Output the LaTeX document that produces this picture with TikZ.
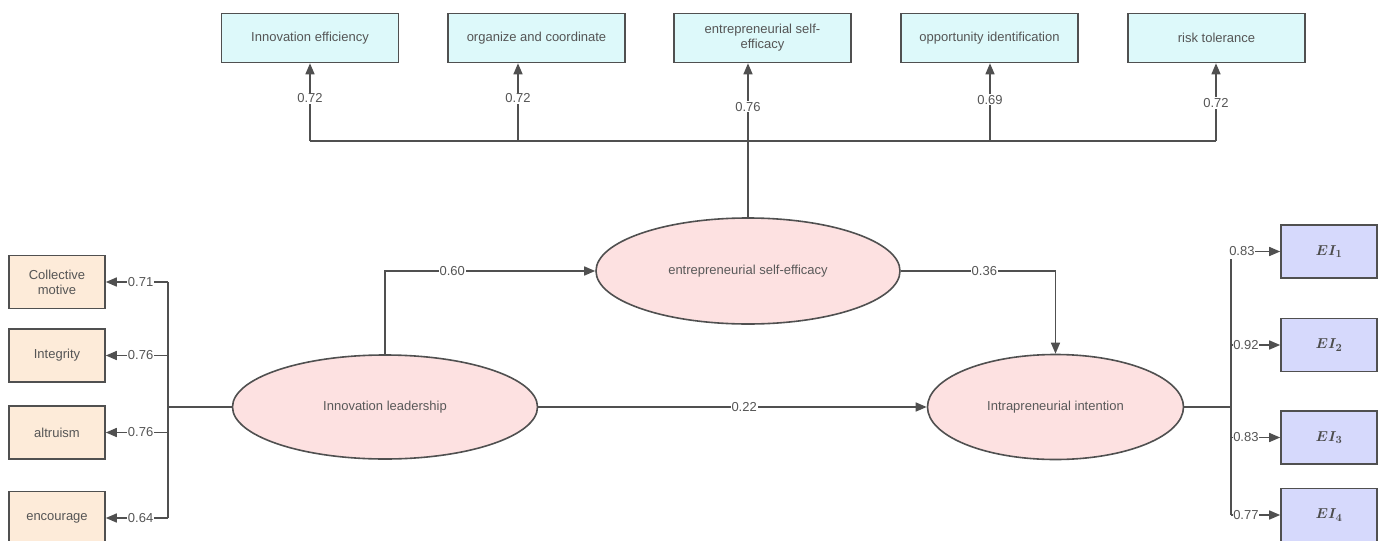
\documentclass[tikz,border=0pt]{standalone}
\usepackage{fontspec}
\setmainfont{Liberation Sans}
\usetikzlibrary{arrows.meta,shapes.geometric,calc}
\definecolor{lc}{HTML}{505050}
\definecolor{tc}{HTML}{555555}
\definecolor{cyanf}{HTML}{DDF9FA}
\definecolor{orf}{HTML}{FDEBD9}
\definecolor{pkf}{HTML}{FDE1E1}
\definecolor{blf}{HTML}{D6D9FC}
\begin{document}
\begin{tikzpicture}[x=1pt,y=-1pt,
  every node/.style={font=\fontsize{13}{15}\selectfont, text=tc},
  topbox/.style={draw=lc, line width=1.6pt, fill=cyanf, minimum width=177pt, minimum height=49pt, inner sep=2pt, align=center},
  leftbox/.style={draw=lc, line width=1.6pt, fill=orf, minimum width=96pt, minimum height=53pt, inner sep=2pt, align=center},
  eibox/.style={draw=lc, line width=1.6pt, fill=blf, minimum width=96pt, minimum height=53pt, inner sep=2pt, font=\fontsize{15}{17}\selectfont\boldmath, text=black!70},
  latent/.style={ellipse, draw=lc, line width=1.6pt, fill=pkf, inner sep=0pt, text=black!65},
  conn/.style={draw=lc, line width=1.5pt},
  arr/.style={conn, -{Triangle[length=11pt,width=9pt]}},
  lbl/.style={fill=white, inner sep=1pt, text=tc},
  rlbl/.style={fill=white, inner xsep=0.5pt, inner ysep=1pt, text=tc, anchor=west}
]
\useasboundingbox (0,0) rectangle (1385,541);
\begin{scope}
\clip (0,0) rectangle (1385,541);
% top indicator boxes
\node[topbox] (b1) at (310,38) {Innovation efficiency};
\node[topbox] (b2) at (536.5,38) {organize and coordinate};
\node[topbox] (b3) at (762.5,38) {entrepreneurial self-\\efficacy};
\node[topbox] (b4) at (989.5,38) {opportunity identification};
\node[topbox] (b5) at (1216.5,38) {risk tolerance};

% latent variables
\node[latent, minimum width=304pt, minimum height=106pt] (ese) at (748,271) {entrepreneurial self-efficacy};
\node[latent, minimum width=305pt, minimum height=104pt] (il) at (385,407) {Innovation leadership};
\node[latent, minimum width=256pt, minimum height=105pt] (ii) at (1055.5,407) {Intrapreneurial intention};

% left boxes
\node[leftbox] (c1) at (57,282) {Collective\\motive};
\node[leftbox] (c2) at (57,355.5) {Integrity};
\node[leftbox] (c3) at (57,432.5) {altruism};
\node[leftbox] (c4) at (57,518) {encourage};

% right boxes
\node[eibox] (e1) at (1329,251.5) {$EI_1$};
\node[eibox] (e2) at (1329,345) {$EI_2$};
\node[eibox] (e3) at (1329,437.5) {$EI_3$};
\node[eibox] (e4) at (1329,515) {$EI_4$};

% top junctions
\coordinate (j1) at (310,141);
\coordinate (j2) at (518,141);
\coordinate (j3) at (748,141);
\coordinate (j4) at (990,141);
\coordinate (j5) at (1216,141);
\draw[conn] (j1) -- (j5);
\draw[conn] (ese.north) -- (j3);
\draw[arr] (j1) -- (j1 |- b1.south) node[lbl, pos=0.55] {0.72};
\draw[arr] (j2) -- (j2 |- b2.south) node[lbl, pos=0.55] {0.72};
\draw[arr] (j3) -- (j3 |- b3.south) node[lbl, pos=0.44] {0.76};
\draw[arr] (j4) -- (j4 |- b4.south) node[lbl, pos=0.53] {0.69};
\draw[arr] (j5) -- (j5 |- b5.south) node[lbl, pos=0.49] {0.72};

% structural paths
\draw[arr] (il.north) |- (ese.west) node[lbl, pos=0.66] {0.60};
\draw[arr] (ese.east) -| (ii.north) node[lbl, pos=0.27] {0.36};
\draw[arr] (il.east) -- (ii.west) node[lbl, pos=0.53] {0.22};

% left measurement
\coordinate (lj) at (168,407);
\coordinate (l1) at (168,282);
\coordinate (l2) at (168,355.5);
\coordinate (l3) at (168,432.5);
\coordinate (l4) at (168,518);
\draw[conn] (il.west) -- (lj);
\draw[conn] (l1) -- (l4);
\draw[arr] (l1) -- (c1.east) node[lbl, pos=0.44] {0.71};
\draw[arr] (l2) -- (c2.east) node[lbl, pos=0.44] {0.76};
\draw[arr] (l3) -- (c3.east) node[lbl, pos=0.44] {0.76};
\draw[arr] (l4) -- (c4.east) node[lbl, pos=0.44] {0.64};

% right measurement
\coordinate (rj) at (1231,407);
\coordinate (r1) at (1231,251.5);
\coordinate (r2) at (1231,345);
\coordinate (r3) at (1231,437.5);
\coordinate (r4) at (1231,515);
\draw[conn] (ii.east) -- (rj);
\draw[conn] (r1) -- (r4);
\draw[arr] (r1) -- (e1.west) node[rlbl, pos=0, xshift=-3pt, inner ysep=3pt] {0.83};
\draw[arr] (r2) -- (e2.west) node[rlbl, pos=0, xshift=1pt] {0.92};
\draw[arr] (r3) -- (e3.west) node[rlbl, pos=0, xshift=1pt] {0.83};
\draw[arr] (r4) -- (e4.west) node[rlbl, pos=0, xshift=1pt] {0.77};
\end{scope}
\end{tikzpicture}
\end{document}
